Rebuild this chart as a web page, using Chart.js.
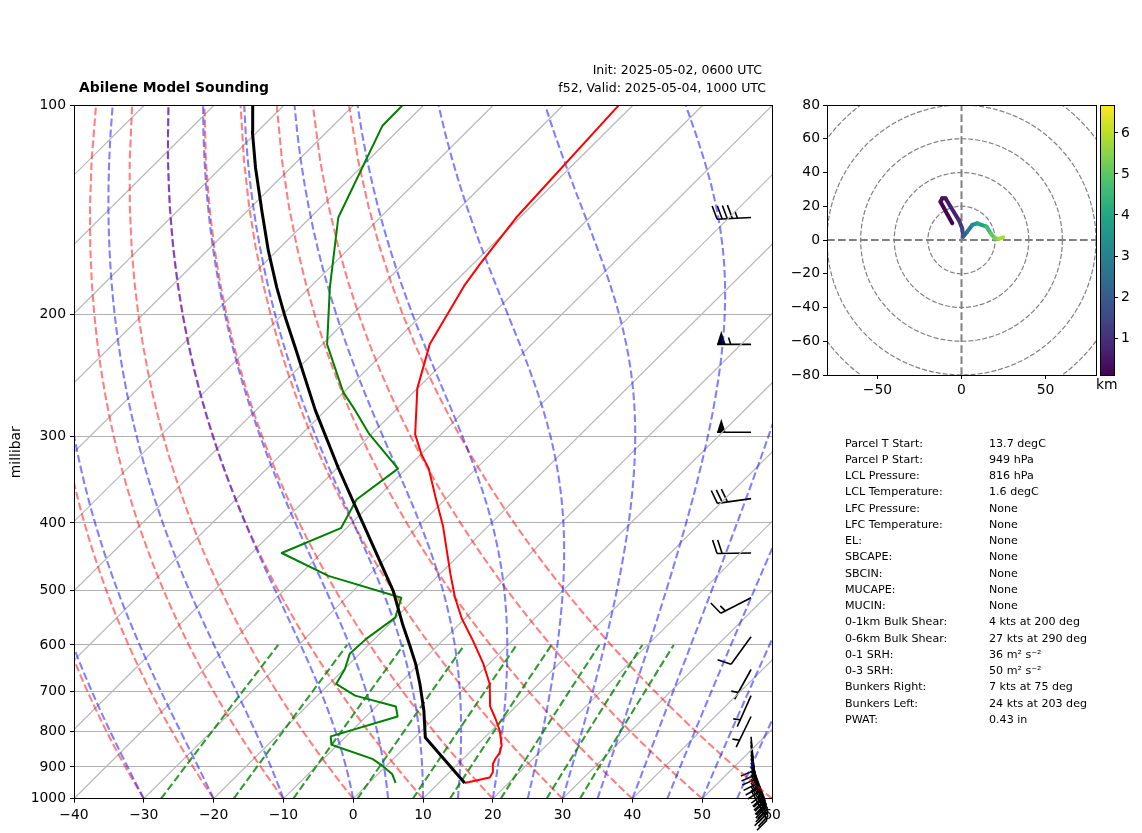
<!DOCTYPE html>
<html>
<head>
<meta charset="utf-8">
<title>Abilene Model Sounding</title>
<script src="https://cdn.jsdelivr.net/npm/chart.js@4"></script>
<style>
    html, body { margin: 0; padding: 0; background: #fff; }
    #page { position: relative; width: 1142px; height: 833px; overflow: hidden; font-family: 'DejaVu Sans', sans-serif; color: #000; }
    canvas { position: absolute; left: 0; top: 0; }
    .label { position: absolute; white-space: nowrap; line-height: 1; }
    .stat { font-size: 11.1px; }
</style>
</head>
<body>
<div id="page">
    <canvas id="skewt" width="1142" height="833"></canvas>
    <canvas id="hodo" width="1142" height="833"></canvas>
    <canvas id="cbar" width="1142" height="833"></canvas>
    <div class="label" style="left:79px; top:80.5px; font-size:13.9px; font-weight:bold;">Abilene Model Sounding</div>
    <div class="label" style="right:380px; top:64px; font-size:12.5px;">Init: 2025-05-02, 0600 UTC</div>
    <div class="label" style="right:376px; top:81.5px; font-size:12.5px;">f52, Valid: 2025-05-04, 1000 UTC</div>
    <div class="label" style="left:1096px; top:378px; font-size:13.9px;">km</div>
</div>
<script>
Chart.defaults.font.family = "'DejaVu Sans', sans-serif";
Chart.defaults.font.size = 13.9;
Chart.defaults.color = '#000';
Chart.defaults.animation = false;

// Plot boxes in page pixels
var MAIN = { left: 74, right: 772, top: 105.7, bottom: 798.7 };
var HODO = { left: 827, right: 1096, top: 105, bottom: 375 };
var CBAR = { left: 1100, right: 1114, top: 105, bottom: 375 };

// Soundings: [pressure hPa, temperature degC]
var TEMP = [
    [949, 13.7], [932, 16.5], [916, 16.2], [891, 15.0], [875, 14.6], [860, 14.4], [838, 13.6],
    [798, 11.2], [766, 8.8], [736, 6.3], [683, 3.0], [639, -0.8], [592, -5.6], [549, -10.5],
    [512, -14.5], [473, -18.6], [404, -26.5], [368, -31.6], [334, -36.8], [318, -40.0],
    [298, -43.7], [266, -48.4], [256, -50.0], [221, -54.6], [182, -58.1], [169, -59.0],
    [145, -60.5], [100, -62.0]
];
var DEWP = [
    [949, 3.8], [921, 2.0], [896, -0.6], [876, -3.0], [836, -10.9], [813, -12.2], [761, -5.5],
    [736, -7.2], [710, -14.6], [683, -19.0], [650, -19.9], [618, -21.4], [588, -21.2],
    [548, -20.1], [513, -22.1], [477, -35.7], [442, -45.7], [407, -40.8], [370, -42.7],
    [334, -41.2], [297, -50.5], [275, -55.8], [259, -60.1], [221, -69.3], [183, -77.1],
    [145, -86.0], [107, -92.9], [100, -93.0]
];
var PARCEL = [
    [949, 13.7], [816, 1.5], [746, -2.6], [683, -7.0], [639, -10.5], [601, -14.0], [560, -18.1],
    [501, -24.3], [376, -42.3], [333, -49.9], [275, -61.5], [223, -73.5], [202, -79.2], [183, -84.7],
    [162, -91.2], [143, -97.5], [123, -105.0], [109, -110.7], [100, -114.4]
];

// Wind barbs: pressure hPa, direction deg, speed kt
var WINDS = [
    { p: 145, dir: 267, spd: 45 }, { p: 221, dir: 270, spd: 55 }, { p: 296, dir: 270, spd: 50 },
    { p: 369, dir: 262, spd: 30 }, { p: 442, dir: 269, spd: 20 }, { p: 513, dir: 243, spd: 15 },
    { p: 584, dir: 216, spd: 10 }, { p: 651, dir: 209, spd: 5 }, { p: 710, dir: 204, spd: 5 },
    { p: 761, dir: 206, spd: 5 }, { p: 814, dir: 175, spd: 10 }, { p: 827, dir: 174, spd: 10 },
    { p: 838, dir: 173, spd: 10 }, { p: 852, dir: 171, spd: 10 }, { p: 864, dir: 168, spd: 10 },
    { p: 875, dir: 165, spd: 15 }, { p: 887, dir: 160, spd: 15 }, { p: 899, dir: 157, spd: 15 },
    { p: 911, dir: 155, spd: 20 }, { p: 923, dir: 153, spd: 20 }, { p: 936, dir: 151, spd: 20 },
    { p: 948, dir: 150, spd: 20 }, { p: 960, dir: 150, spd: 20 }, { p: 972, dir: 152, spd: 20 }
];

// Hodograph trace: u, v (kt), height (km)
var HODO_TRACE = [
    [-5.5, 9.9, 0.1], [-12.5, 22.7, 0.3], [-11.5, 24.7, 0.4], [-9.5, 24.7, 0.5], [-6.5, 19.7, 0.7],
    [-1.6, 11.8, 1.1], [0.4, 6.9, 1.5], [1.0, 2.0, 2.0], [3.4, 4.9, 2.7], [6.4, 8.9, 3.3],
    [9.3, 9.9, 3.9], [14.9, 7.9, 4.6], [17.3, 4.0, 5.0], [19.8, 1.0, 5.4], [22.2, 0.6, 5.8], [24.8, 1.6, 6.2]
];

var STATS = [
    ['Parcel T Start:', '13.7 degC'], ['Parcel P Start:', '949 hPa'], ['LCL Pressure:', '816 hPa'],
    ['LCL Temperature:', '1.6 degC'], ['LFC Pressure:', 'None'], ['LFC Temperature:', 'None'],
    ['EL:', 'None'], ['SBCAPE:', 'None'], ['SBCIN:', 'None'], ['MUCAPE:', 'None'], ['MUCIN:', 'None'],
    ['0-1km Bulk Shear:', '4 kts at 200 deg'], ['0-6km Bulk Shear:', '27 kts at 290 deg'],
    ['0-1 SRH:', '36 m\u00b2 s\u207b\u00b2'], ['0-3 SRH:', '50 m\u00b2 s\u207b\u00b2'],
    ['Bunkers Right:', '7 kts at 75 deg'], ['Bunkers Left:', '24 kts at 203 deg'], ['PWAT:', '0.43 in']
];

var VIRIDIS = ['#440154', '#482475', '#414487', '#355f8d', '#2a788e', '#21918c', '#22a884', '#44bf70', '#7ad151', '#bddf26', '#fde725'];
var HEIGHT_MIN = 0.1, HEIGHT_MAX = 6.68;
var DASH = [7.7, 3.3];

// Degrees of x axis per decade of pressure: the -40 isotherm ends in the top right corner
var SKEW = 100;

function skewPoint(p, t) {
    return { x: t + SKEW * Math.log10(1000 / p), y: p };
}

function profile(rows) {
    return rows.map(function(r) { return skewPoint(r[0], r[1]); });
}

// Thermodynamic background of the diagram (dry, moist, mixing ratio guide lines)
function satVapor(t) { return 6.112 * Math.exp(17.67 * t / (t + 243.5)); }

function dryAdiabat(t0) {
    var pts = [];
    for (var p = 1000; p >= 100; p -= 20) {
        pts.push(skewPoint(p, (t0 + 273.15) * Math.pow(p / 1000, 0.2857) - 273.15));
    }
    return pts;
}

function moistSlope(p, tk) {
    var es = satVapor(tk - 273.15);
    var rs = 0.622 * es / (p - es);
    var lv = 2.501e6, rd = 287.05, cp = 1005;
    return (rd * tk + lv * rs) / (cp + lv * lv * rs * 0.622 / (rd * tk * tk)) / p;
}

function moistAdiabat(t0) {
    var pts = [skewPoint(1000, t0)];
    var tk = t0 + 273.15, p = 1000, dp = -10;
    while (p > 100) {
        var k1 = moistSlope(p, tk);
        var k2 = moistSlope(p + dp, tk + k1 * dp);
        tk += 0.5 * (k1 + k2) * dp;
        p += dp;
        pts.push(skewPoint(p, tk - 273.15));
    }
    return pts;
}

function mixingLine(w) {
    var pts = [];
    for (var p = 1000; p >= 600; p -= 20) {
        var e = p * w / (0.622 + w);
        var l = Math.log(e / 6.112);
        pts.push(skewPoint(p, 243.5 * l / (17.67 - l)));
    }
    return pts;
}

function lineSet(data, color, width, dash) {
    return {
        data: data,
        showLine: true,
        borderColor: color,
        borderWidth: width,
        borderDash: dash || [],
        pointRadius: 0,
        tension: 0,
        borderJoinStyle: 'round'
    };
}

function viridis(t) {
    var f = Math.max(0, Math.min(1, t)) * (VIRIDIS.length - 1);
    var i = Math.min(Math.floor(f), VIRIDIS.length - 2);
    var a = parseInt(VIRIDIS[i].slice(1), 16), b = parseInt(VIRIDIS[i + 1].slice(1), 16), k = f - i;
    var mix = function(s) { return Math.round(((a >> s) & 255) * (1 - k) + ((b >> s) & 255) * k); };
    return 'rgb(' + mix(16) + ',' + mix(8) + ',' + mix(0) + ')';
}

function minusTick(v) {
    return v < 0 ? '\u2212' + (-v) : String(v);
}

// Pads a full-page canvas so the chart area lands on the given box
function boxPadding(box) {
    return { left: 0, top: box.top, right: 1142 - box.right, bottom: 0 };
}

var framePlugin = {
    id: 'frame',
    afterDraw: function(chart) {
        var a = chart.chartArea, ctx = chart.ctx;
        var top = Math.floor(a.top), bottom = Math.floor(a.bottom);
        ctx.save();
        ctx.strokeStyle = '#000';
        ctx.lineWidth = 1;
        ctx.strokeRect(Math.floor(a.left) + 0.5, top + 0.5, Math.round(a.right - a.left), bottom - top);
        ctx.restore();
    }
};

function drawBarb(ctx, x0, y0, w) {
    var L = 34, H = 0.4 * L, W = 0.25 * L, S = 0.15 * L;
    var rad = w.dir * Math.PI / 180;
    var dx = Math.sin(rad), dy = -Math.cos(rad);
    var nx = -dy, ny = dx;
    var at = function(along, out) {
        return [x0 + dx * along + nx * out, y0 + dy * along + ny * out];
    };
    var spd = 5 * Math.round(w.spd / 5);
    var flags = Math.floor(spd / 50);
    var fulls = Math.floor((spd - flags * 50) / 10);
    var half = (spd - flags * 50 - fulls * 10) >= 5;
    var off = L;
    ctx.beginPath();
    ctx.moveTo(x0, y0);
    ctx.lineTo.apply(ctx, at(L, 0));
    ctx.stroke();
    for (var i = 0; i < flags; i++) {
        ctx.beginPath();
        ctx.moveTo.apply(ctx, at(off, 0));
        ctx.lineTo.apply(ctx, at(off - W / 2, H));
        ctx.lineTo.apply(ctx, at(off - W, 0));
        ctx.closePath();
        ctx.fill();
        off -= W + S;
    }
    for (var j = 0; j < fulls; j++) {
        ctx.beginPath();
        ctx.moveTo.apply(ctx, at(off, 0));
        ctx.lineTo.apply(ctx, at(off + W / 2, H));
        ctx.stroke();
        off -= S;
    }
    if (half) {
        if (off === L) off -= 1.5 * S;
        ctx.beginPath();
        ctx.moveTo.apply(ctx, at(off, 0));
        ctx.lineTo.apply(ctx, at(off + W / 4, H / 2));
        ctx.stroke();
    }
}

var barbPlugin = {
    id: 'barbs',
    beforeDatasetsDraw: function(chart) {
        var ctx = chart.ctx, a = chart.chartArea;
        var x = a.left + 0.97 * (a.right - a.left);
        ctx.save();
        ctx.strokeStyle = '#000';
        ctx.fillStyle = '#000';
        ctx.lineWidth = 1.6;
        WINDS.forEach(function(w) {
            drawBarb(ctx, x, chart.scales.y.getPixelForValue(w.p), w);
        });
        ctx.restore();
    }
};

// --- Skew-T ---
var skewSets = [
    lineSet(profile(PARCEL), '#000', 3),
    lineSet(profile(DEWP), 'green', 2),
    lineSet(profile(TEMP), 'red', 2)
];
[0.0004, 0.001, 0.002, 0.004, 0.007, 0.01, 0.016, 0.024, 0.032].forEach(function(w) {
    skewSets.push(lineSet(mixingLine(w), 'rgba(0,128,0,0.8)', 2.08, DASH));
});
[-40, -30, -20, -10, 0, 5, 10, 15, 20, 25, 30, 35, 40, 45, 50, 55, 60].forEach(function(t) {
    skewSets.push(lineSet(moistAdiabat(t), 'rgba(0,0,255,0.5)', 2.08, DASH));
});
[-40, -30, -20, -10, 0, 10, 20, 30, 40, 50, 60].forEach(function(t) {
    skewSets.push(lineSet(dryAdiabat(t), 'rgba(255,0,0,0.5)', 2.08, DASH));
});
for (var t = -130; t <= 50; t += 10) {
    skewSets.push(lineSet([skewPoint(1000, t), skewPoint(100, t)], '#b8b8b8', 1.2));
}

new Chart(document.getElementById('skewt'), {
    type: 'scatter',
    data: { datasets: skewSets },
    plugins: [barbPlugin, framePlugin],
    options: {
        responsive: false,
        events: [],
        layout: { padding: boxPadding(MAIN) },
        plugins: { legend: { display: false }, tooltip: { enabled: false } },
        scales: {
            x: {
                type: 'linear', min: -40, max: 60,
                afterFit: function(s) { s.height = 833 - MAIN.bottom; },
                grid: { drawOnChartArea: false, tickLength: 4, tickColor: '#000' },
                border: { display: false },
                ticks: { stepSize: 10, maxRotation: 0, padding: 4.5, callback: minusTick }
            },
            y: {
                type: 'logarithmic', min: 100, max: 1000, reverse: true,
                afterFit: function(s) { s.width = MAIN.left; },
                afterBuildTicks: function(s) {
                    s.ticks = [100, 200, 300, 400, 500, 600, 700, 800, 900, 1000].map(function(v) { return { value: v }; });
                },
                grid: { color: '#b0b0b0', tickLength: 4, tickColor: '#000' },
                border: { display: false },
                title: { display: true, text: 'millibar', font: { size: 13.9 }, padding: { top: 8, bottom: 0 } },
                ticks: { autoSkip: false, padding: 4, callback: function(v) { return String(v); } }
            }
        }
    }
});

// --- Hodograph ---
var hodoSets = [{
    data: HODO_TRACE.map(function(r) { return { x: r[0], y: r[1], km: r[2] }; }),
    showLine: true,
    pointRadius: 0,
    borderWidth: 4,
    borderCapStyle: 'round',
    borderColor: viridis(0),
    segment: {
        borderColor: function(c) {
            return viridis((HODO_TRACE[c.p0DataIndex][2] - HEIGHT_MIN) / (HEIGHT_MAX - HEIGHT_MIN));
        }
    }
}];
hodoSets.push(lineSet([{ x: -80, y: 0 }, { x: 80, y: 0 }], '#808080', 2, DASH));
hodoSets.push(lineSet([{ x: 0, y: -80 }, { x: 0, y: 80 }], '#808080', 2, DASH));
[20, 40, 60, 80, 100].forEach(function(r) {
    var pts = [];
    for (var a = 0; a <= 360; a += 3) {
        pts.push({ x: r * Math.cos(a * Math.PI / 180), y: r * Math.sin(a * Math.PI / 180) });
    }
    hodoSets.push(lineSet(pts, '#808080', 1.2, [5, 2]));
});

new Chart(document.getElementById('hodo'), {
    type: 'scatter',
    data: { datasets: hodoSets },
    plugins: [framePlugin],
    options: {
        responsive: false,
        events: [],
        layout: { padding: { left: 0, top: HODO.top, right: 1142 - HODO.right, bottom: 833 - HODO.bottom - 30 } },
        plugins: { legend: { display: false }, tooltip: { enabled: false } },
        scales: {
            x: {
                type: 'linear', min: -80, max: 80,
                afterFit: function(s) { s.height = 30; },
                afterBuildTicks: function(s) {
                    s.ticks = [-50, 0, 50].map(function(v) { return { value: v }; });
                },
                grid: { drawOnChartArea: false, tickLength: 4, tickColor: '#000' },
                border: { display: false },
                ticks: { maxRotation: 0, padding: 3, callback: minusTick }
            },
            y: {
                type: 'linear', min: -80, max: 80,
                afterFit: function(s) { s.width = HODO.left; },
                grid: { drawOnChartArea: false, tickLength: 4, tickColor: '#000' },
                border: { display: false },
                ticks: { stepSize: 20, padding: 3, callback: minusTick }
            }
        }
    }
});

// --- Colour bar ---
new Chart(document.getElementById('cbar'), {
    type: 'bar',
    data: {
        labels: ['km'],
        datasets: [{
            data: [[HEIGHT_MIN, HEIGHT_MAX]],
            barPercentage: 1,
            categoryPercentage: 1,
            backgroundColor: function(c) {
                var a = c.chart.chartArea;
                if (!a) return VIRIDIS[0];
                var g = c.chart.ctx.createLinearGradient(0, a.bottom, 0, a.top);
                VIRIDIS.forEach(function(col, i) { g.addColorStop(i / (VIRIDIS.length - 1), col); });
                return g;
            }
        }]
    },
    plugins: [framePlugin],
    options: {
        responsive: false,
        events: [],
        layout: { padding: { left: CBAR.left, top: CBAR.top, right: 0, bottom: 833 - CBAR.bottom } },
        plugins: { legend: { display: false }, tooltip: { enabled: false } },
        scales: {
            x: { display: false },
            y: {
                position: 'right',
                min: HEIGHT_MIN, max: HEIGHT_MAX,
                afterFit: function(s) { s.width = 1142 - CBAR.right; },
                afterBuildTicks: function(s) {
                    s.ticks = [1, 2, 3, 4, 5, 6].map(function(v) { return { value: v }; });
                },
                grid: { drawOnChartArea: false, tickLength: 4, tickColor: '#000' },
                border: { display: false },
                ticks: { padding: 3 }
            }
        }
    }
});

// --- Stats table ---
var page = document.getElementById('page');
STATS.forEach(function(row, i) {
    var top = 437.5 + i * 16.25;
    [[row[0], 845], [row[1], 989]].forEach(function(cell) {
        var el = document.createElement('div');
        el.className = 'label stat';
        el.style.left = cell[1] + 'px';
        el.style.top = top + 'px';
        el.textContent = cell[0];
        page.appendChild(el);
    });
});
</script>
</body>
</html>
